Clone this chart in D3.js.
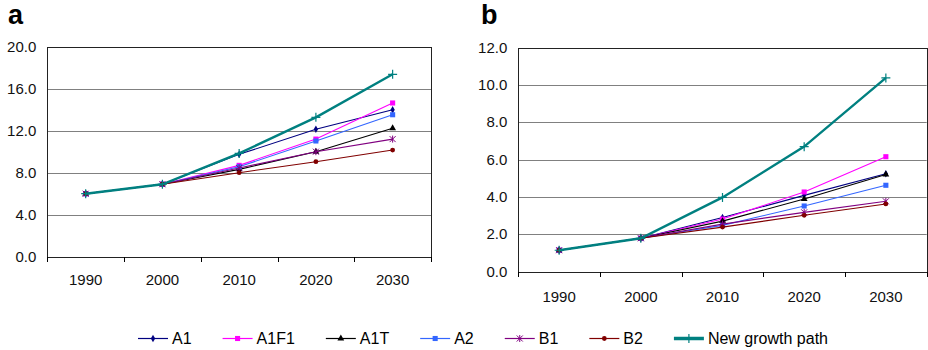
<!DOCTYPE html>
<html>
<head>
<meta charset="utf-8">
<script src="https://cdn.jsdelivr.net/npm/d3@7"></script>
<style>
  body { margin: 0; background: #fff; }
  svg { display: block; font-family: Arial, "Liberation Sans", sans-serif; }
</style>
</head>
<body>
<svg id="chart" width="928" height="350"></svg>
<script>
// categories
let years = ["1990", "2000", "2010", "2020", "2030"];
let seriesNames = ["A1", "A1F1", "A1T", "A2", "B1", "B2", "New growth path"];

// panel a values
let aA1   = [6.0, 6.9, 9.75, 12.13, 14.0];
let aA1F1 = [6.0, 6.9, 8.7, 11.2, 14.64];
let aA1T  = [6.0, 6.9, 8.32, 10.0, 12.23];
let aA2   = [6.0, 6.9, 8.57, 11.02, 13.52];
let aB1   = [6.0, 6.9, 8.45, 10.0, 11.2];
let aB2   = [6.0, 6.9, 8.0, 9.05, 10.16];
let aNG   = [6.0, 6.9, 9.84, 13.27, 17.37];

// panel b values
let bA1   = [1.15, 1.79, 2.9, 4.09, 5.25];
let bA1F1 = [1.15, 1.79, 2.82, 4.27, 6.16];
let bA1T  = [1.15, 1.79, 2.71, 3.89, 5.21];
let bA2   = [1.15, 1.79, 2.48, 3.52, 4.63];
let bB1   = [1.15, 1.79, 2.55, 3.18, 3.77];
let bB2   = [1.15, 1.79, 2.39, 3.02, 3.63];
let bNG   = [1.15, 1.79, 3.98, 6.7, 10.38];

// y tick labels
let aTicks = [0, 4, 8, 12, 16, 20];
let bTicks = [0, 2, 4, 6, 8, 10, 12];

let colors = ["#000080", "#ff00ff", "#000000", "#3366ff", "#800080", "#800000", "#008080"];
let markers = ["diamond", "square", "triangle", "square", "star", "circle", "plus"];

let svg = d3.select("#chart");

function marker(g, type, color, x, y) {
    if (type === "star") {
        let r = 3;
        g.append("path")
            .attr("d", `M${x - r},${y - r}L${x + r},${y + r}M${x - r},${y + r}L${x + r},${y - r}M${x},${y - r - 0.5}L${x},${y + r + 0.5}`)
            .attr("stroke", color).attr("stroke-width", 1).attr("fill", "none");
    } else if (type === "plus") {
        let r = 4.5;
        g.append("path")
            .attr("d", `M${x - r},${y}L${x + r},${y}M${x},${y - r}L${x},${y + r}`)
            .attr("stroke", color).attr("stroke-width", 1.2).attr("fill", "none");
    } else {
        let sym = {diamond: d3.symbolDiamond, square: d3.symbolSquare, triangle: d3.symbolTriangle, circle: d3.symbolCircle}[type];
        let size = {diamond: 16, square: 26, triangle: 20, circle: 18}[type];
        g.append("path")
            .attr("d", d3.symbol().type(sym).size(size)())
            .attr("transform", `translate(${x},${y})`)
            .attr("fill", color);
    }
}

function panel(opts) {
    let {left, right, top, bottom, ymax, ticks, data, label, labelX, xLabelY} = opts;
    let g = svg.append("g");
    let x = d3.scaleBand().domain(years).range([left, right]);
    let y = d3.scaleLinear().domain([0, ymax]).range([bottom, top]);

    // grid
    g.selectAll(".grid").data(ticks.filter(t => t > 0 && t < ymax)).enter()
        .append("line")
        .attr("x1", left).attr("x2", right)
        .attr("y1", d => Math.round(y(d)) + 0.5).attr("y2", d => Math.round(y(d)) + 0.5)
        .attr("stroke", "#808080").attr("stroke-width", 1);

    // frame
    g.append("rect")
        .attr("x", Math.round(left) + 0.5).attr("y", Math.round(top) + 0.5)
        .attr("width", Math.round(right) - Math.round(left)).attr("height", Math.round(bottom) - Math.round(top))
        .attr("fill", "none").attr("stroke", "#222").attr("stroke-width", 1);

    // bottom ticks at category boundaries
    let bounds = years.map(d => x(d)).concat([right]);
    g.selectAll(".xt").data(bounds).enter()
        .append("line")
        .attr("x1", d => Math.round(d) + 0.5).attr("x2", d => Math.round(d) + 0.5)
        .attr("y1", Math.round(bottom)).attr("y2", Math.round(bottom) + 5)
        .attr("stroke", "#000");

    // x labels
    g.selectAll(".xl").data(years).enter()
        .append("text")
        .attr("x", d => x(d) + x.bandwidth() / 2)
        .attr("y", xLabelY)
        .attr("text-anchor", "middle")
        .attr("font-size", 15)
        .attr("fill", "#111")
        .text(d => d);

    // y labels
    g.selectAll(".yl").data(ticks).enter()
        .append("text")
        .attr("x", left - 11)
        .attr("y", d => y(d) + 5)
        .attr("text-anchor", "end")
        .attr("font-size", 15)
        .attr("fill", "#111")
        .text(d => d3.format(".1f")(d));

    // panel letter
    g.append("text")
        .attr("x", labelX).attr("y", 24)
        .attr("font-size", 27).attr("font-weight", "bold")
        .text(label);

    let line = d3.line()
        .x((d, i) => x(years[i]) + x.bandwidth() / 2)
        .y(d => y(d));

    data.forEach((vals, k) => {
        g.append("path")
            .attr("d", line(vals))
            .attr("fill", "none")
            .attr("stroke", colors[k])
            .attr("stroke-width", k === 6 ? 2.4 : 1.1);
        vals.forEach((v, i) => marker(g, markers[k], colors[k], x(years[i]) + x.bandwidth() / 2, y(v)));
    });
}

panel({left: 47.3, right: 431, top: 46.7, bottom: 256.7, ymax: 20, ticks: aTicks,
       data: [aA1, aA1F1, aA1T, aA2, aB1, aB2, aNG], label: "a", labelX: 8, xLabelY: 284.5});
panel({left: 518.3, right: 926.7, top: 47.7, bottom: 271.7, ymax: 12, ticks: bTicks,
       data: [bA1, bA1F1, bA1T, bA2, bB1, bB2, bNG], label: "b", labelX: 481, xLabelY: 302});

// legend
let lg = svg.append("g");
let lx = 138;
let ly = 338.5;
seriesNames.forEach((name, k) => {
    lg.append("line")
        .attr("x1", lx).attr("x2", lx + 30)
        .attr("y1", ly).attr("y2", ly)
        .attr("stroke", colors[k])
        .attr("stroke-width", k === 6 ? 3.5 : 1.2);
    marker(lg, markers[k], colors[k], lx + 15, ly);
    let t = lg.append("text")
        .attr("x", lx + 34).attr("y", ly + 5.5)
        .attr("font-size", 16)
        .attr("fill", "#000")
        .text(name);
    lx += 34 + t.node().getComputedTextLength() + 31;
});
</script>
</body>
</html>
